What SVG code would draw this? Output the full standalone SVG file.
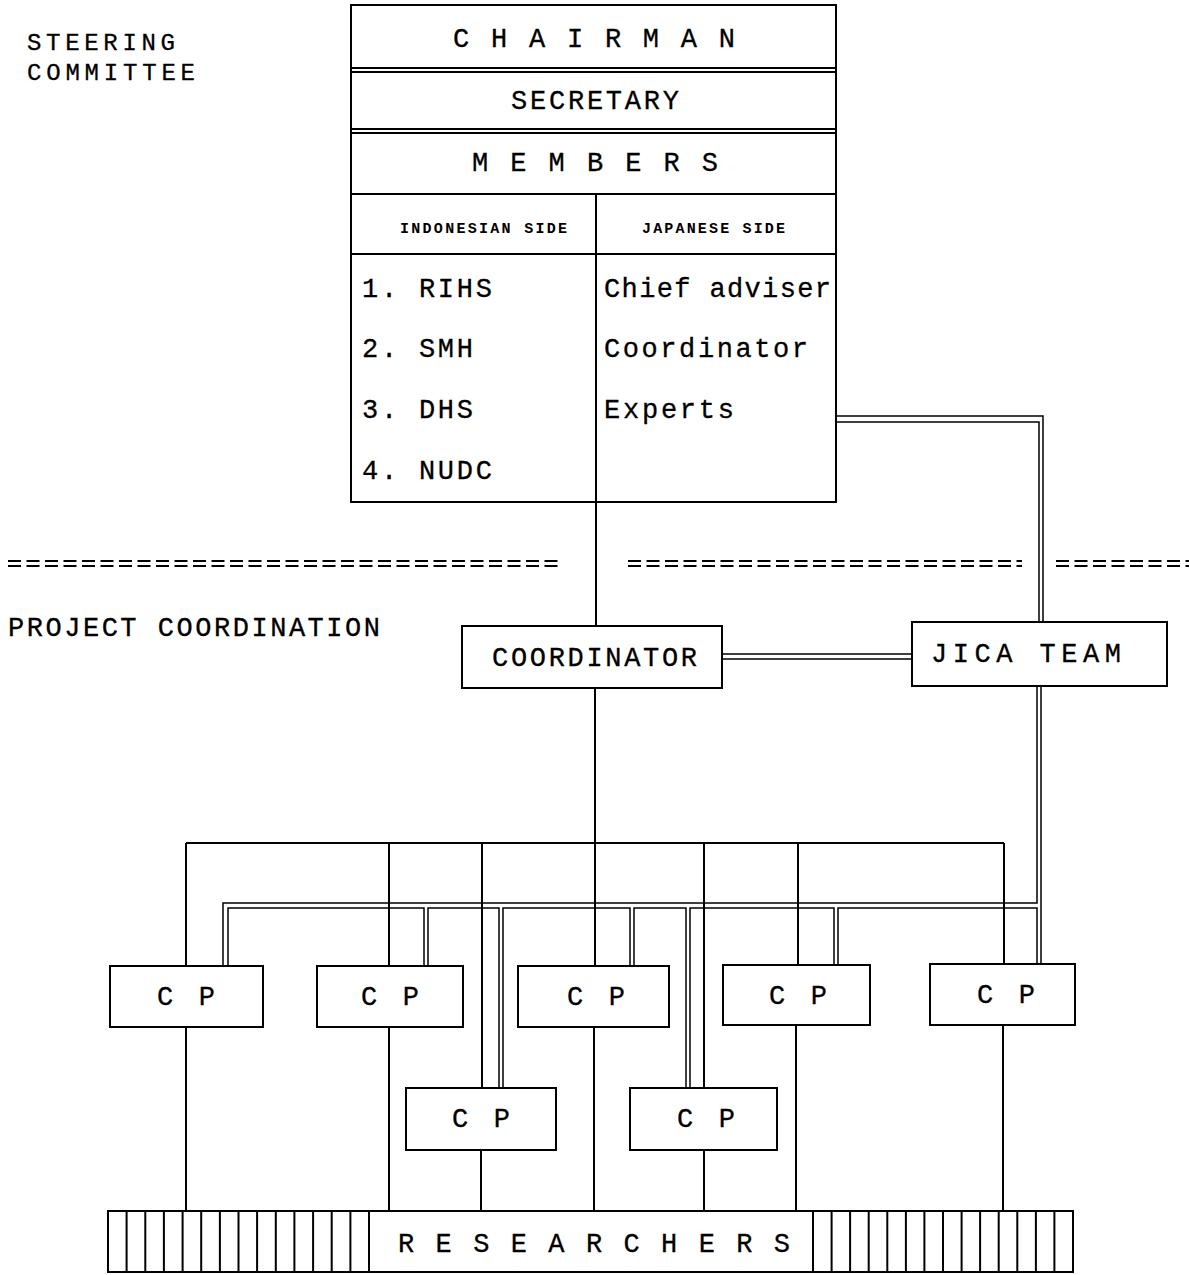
<svg xmlns="http://www.w3.org/2000/svg" width="1189" height="1275" viewBox="0 0 1189 1275">
<style>
.t{font-family:"Liberation Mono","Courier New",monospace;font-size:27px;fill:#000;stroke:#000;stroke-width:0.3}
.h{font-family:"Liberation Mono","Courier New",monospace;font-size:24px;fill:#000;stroke:#000;stroke-width:0.3}
.s{font-family:"Liberation Mono","Courier New",monospace;font-size:15px;font-weight:bold;fill:#000}
.box{fill:#fff;stroke:#000;stroke-width:2}
.ln{fill:none;stroke:#000;stroke-width:2}
.dl{fill:none;stroke:#000;stroke-width:1.5}
.dash{fill:none;stroke:#000;stroke-width:2;stroke-dasharray:13 5.5}
</style>
<rect width="1189" height="1275" fill="#fff"/>

<g id="labels">
<text class="h" x="27" y="50" textLength="148" lengthAdjust="spacing">STEERING</text>
<text class="h" x="27" y="80" textLength="168" lengthAdjust="spacing">COMMITTEE</text>
<text class="t" x="8" y="636" textLength="372" lengthAdjust="spacing">PROJECT COORDINATION</text>
</g>

<g id="separators">
<path class="dash" d="M8,561 H562 M8,566 H562"/>
<path class="dash" d="M628,561 H1022 M628,566 H1022"/>
<path class="dash" d="M1056,561 H1189 M1056,566 H1189"/>
</g>

<g id="connectors">
<path class="ln" d="M596,502 V626"/>
<path class="ln" d="M595,688 V966"/>
<path class="ln" d="M186,843 H1004"/>
<path class="ln" d="M186,843 V966 M389,843 V966 M482,843 V1088 M704,843 V1088 M798,843 V965 M1004,843 V964"/>
<path class="ln" d="M186,1027 V1211 M389,1027 V1211 M481,1150 V1211 M594,1027 V1211 M704,1150 V1211 M796,1025 V1211 M1003,1025 V1211"/>
<path class="dl" d="M836,416 H1043 V622 M836,422 H1039 V622"/>
<path class="dl" d="M722,654 H912 M722,659 H912"/>
<path class="dl" d="M1041,686 V964 M1037,686 V903 H223 V966"/>
<path class="dl" d="M228,966 V908 H424 V966 M428,966 V908 H499 V1088 M503,1088 V908 H630 V966 M634,966 V908 H686 V1088 M690,1088 V908 H834 V965 M838,965 V908 H1037 V964"/>
</g>

<g id="steering-committee">
<rect class="box" x="351" y="5" width="485" height="497"/>
<path class="ln" d="M351,68 H836 M351,72 H836 M351,129 H836 M351,133 H836 M351,194 H836 M351,254 H836 M596,194 V502"/>
<text class="t" x="453" y="47" textLength="282" lengthAdjust="spacing">C H A I R M A N</text>
<text class="t" x="511" y="109" textLength="168" lengthAdjust="spacing">SECRETARY</text>
<text class="t" x="472" y="171" textLength="246" lengthAdjust="spacing">M E M B E R S</text>
<text class="s" x="400" y="233" textLength="167" lengthAdjust="spacing">INDONESIAN SIDE</text>
<text class="s" x="642" y="233" textLength="143" lengthAdjust="spacing">JAPANESE SIDE</text>
<text class="t" x="362" y="297" textLength="130" lengthAdjust="spacing">1. RIHS</text>
<text class="t" x="362" y="357" textLength="111" lengthAdjust="spacing">2. SMH</text>
<text class="t" x="362" y="418" textLength="111" lengthAdjust="spacing">3. DHS</text>
<text class="t" x="362" y="479" textLength="130" lengthAdjust="spacing">4. NUDC</text>
<text class="t" x="604" y="297" textLength="227" lengthAdjust="spacing">Chief adviser</text>
<text class="t" x="604" y="357" textLength="204" lengthAdjust="spacing">Coordinator</text>
<text class="t" x="604" y="418" textLength="130" lengthAdjust="spacing">Experts</text>
</g>

<g id="coordinator">
<rect class="box" x="462" y="626" width="260" height="62"/>
<text class="t" x="492" y="666" textLength="205" lengthAdjust="spacing">COORDINATOR</text>
</g>

<g id="jica-team">
<rect class="box" x="912" y="622" width="255" height="64"/>
<text class="t" x="931" y="662" textLength="190" lengthAdjust="spacing">JICA TEAM</text>
</g>

<g id="cp1"><rect class="box" x="110" y="966" width="153" height="61"/><text class="t" x="157" y="1005" textLength="58" lengthAdjust="spacing">C P</text></g>
<g id="cp2"><rect class="box" x="317" y="966" width="146" height="61"/><text class="t" x="361" y="1005" textLength="58" lengthAdjust="spacing">C P</text></g>
<g id="cp3"><rect class="box" x="518" y="966" width="151" height="61"/><text class="t" x="567" y="1005" textLength="58" lengthAdjust="spacing">C P</text></g>
<g id="cp4"><rect class="box" x="723" y="965" width="147" height="60"/><text class="t" x="769" y="1004" textLength="58" lengthAdjust="spacing">C P</text></g>
<g id="cp5"><rect class="box" x="930" y="964" width="145" height="61"/><text class="t" x="977" y="1003" textLength="58" lengthAdjust="spacing">C P</text></g>
<g id="cp6"><rect class="box" x="406" y="1088" width="150" height="62"/><text class="t" x="452" y="1127" textLength="58" lengthAdjust="spacing">C P</text></g>
<g id="cp7"><rect class="box" x="630" y="1088" width="147" height="62"/><text class="t" x="677" y="1127" textLength="58" lengthAdjust="spacing">C P</text></g>

<g id="researchers">
<rect class="box" x="108" y="1211" width="965" height="61"/>
<path class="ln" d="M126.6,1211 V1272 M145.3,1211 V1272 M163.9,1211 V1272 M182.6,1211 V1272 M201.2,1211 V1272 M219.9,1211 V1272 M238.5,1211 V1272 M257.1,1211 V1272 M275.8,1211 V1272 M294.4,1211 V1272 M313.1,1211 V1272 M331.7,1211 V1272 M350.4,1211 V1272 M369,1211 V1272"/>
<path class="ln" d="M813,1211 V1272 M831.6,1211 V1272 M850.1,1211 V1272 M868.7,1211 V1272 M887.3,1211 V1272 M905.9,1211 V1272 M924.4,1211 V1272 M943,1211 V1272 M961.6,1211 V1272 M980.1,1211 V1272 M998.7,1211 V1272 M1017.3,1211 V1272 M1035.9,1211 V1272 M1054.4,1211 V1272"/>
<text class="t" x="398" y="1252" textLength="392" lengthAdjust="spacing">R E S E A R C H E R S</text>
</g>
</svg>
